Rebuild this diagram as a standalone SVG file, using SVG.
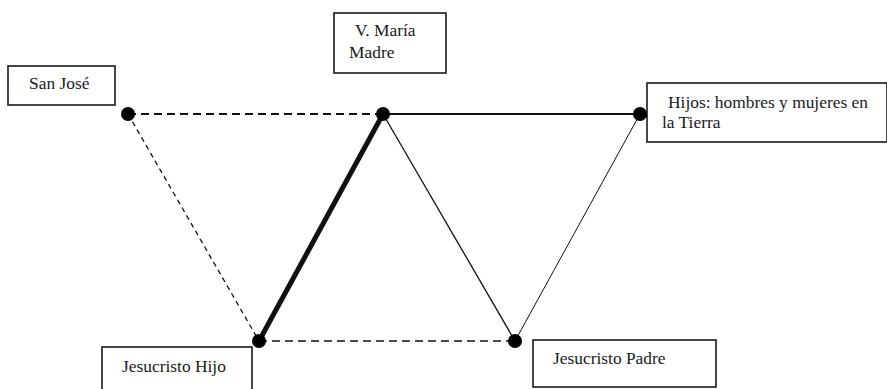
<svg xmlns="http://www.w3.org/2000/svg" width="887" height="389" viewBox="0 0 887 389">
  <style>
    .box { fill: #ffffff; stroke: #1a1a1a; stroke-width: 1.6; }
    .lbl { font-family: "Liberation Serif", "Times New Roman", serif; font-size: 17.4px; fill: #1a1a1a; }
    .dot { fill: #000000; }
    .edge { fill: none; stroke: #111111; }
  </style>
  <rect width="887" height="389" fill="#ffffff"/>

  <g id="connectors">
    <line class="edge" x1="128" y1="114" x2="383" y2="114" stroke-width="1.8" stroke-dasharray="8 5"/>
    <line class="edge" x1="128" y1="114" x2="259" y2="341" stroke-width="1.3" stroke-dasharray="5 4"/>
    <line class="edge" x1="259" y1="341" x2="515" y2="341" stroke-width="1.6" stroke-dasharray="8 5"/>
    <line class="edge" x1="383" y1="114" x2="259" y2="341" stroke-width="5"/>
    <line class="edge" x1="383" y1="114" x2="640" y2="114" stroke-width="2"/>
    <line class="edge" x1="383" y1="114" x2="515" y2="341" stroke-width="1.3"/>
    <line class="edge" x1="515" y1="341" x2="640" y2="114" stroke-width="1" stroke="#8a8a8a"/>
  </g>

  <g id="san-jose">
    <rect class="box" x="8" y="66" width="107" height="39"/>
    <text class="lbl" x="29" y="89">San José</text>
    <circle class="dot" cx="128" cy="114" r="7"/>
  </g>

  <g id="maria">
    <rect class="box" x="334" y="13" width="112" height="60"/>
    <text class="lbl" x="355" y="36">V. María</text>
    <text class="lbl" x="349" y="58">Madre</text>
    <circle class="dot" cx="383" cy="114" r="7"/>
  </g>

  <g id="hijos">
    <rect class="box" x="647" y="83" width="240" height="59"/>
    <text class="lbl" x="668" y="108">Hijos: hombres y mujeres en</text>
    <text class="lbl" x="662" y="128">la Tierra</text>
    <circle class="dot" cx="640" cy="114" r="7"/>
  </g>

  <g id="jesucristo-hijo">
    <rect class="box" x="102" y="347" width="150" height="50"/>
    <text class="lbl" x="122" y="372">Jesucristo Hijo</text>
    <circle class="dot" cx="259" cy="341" r="7"/>
  </g>

  <g id="jesucristo-padre">
    <rect class="box" x="533" y="340" width="183" height="47"/>
    <text class="lbl" x="553" y="364">Jesucristo Padre</text>
    <circle class="dot" cx="515" cy="341" r="7"/>
  </g>
</svg>
